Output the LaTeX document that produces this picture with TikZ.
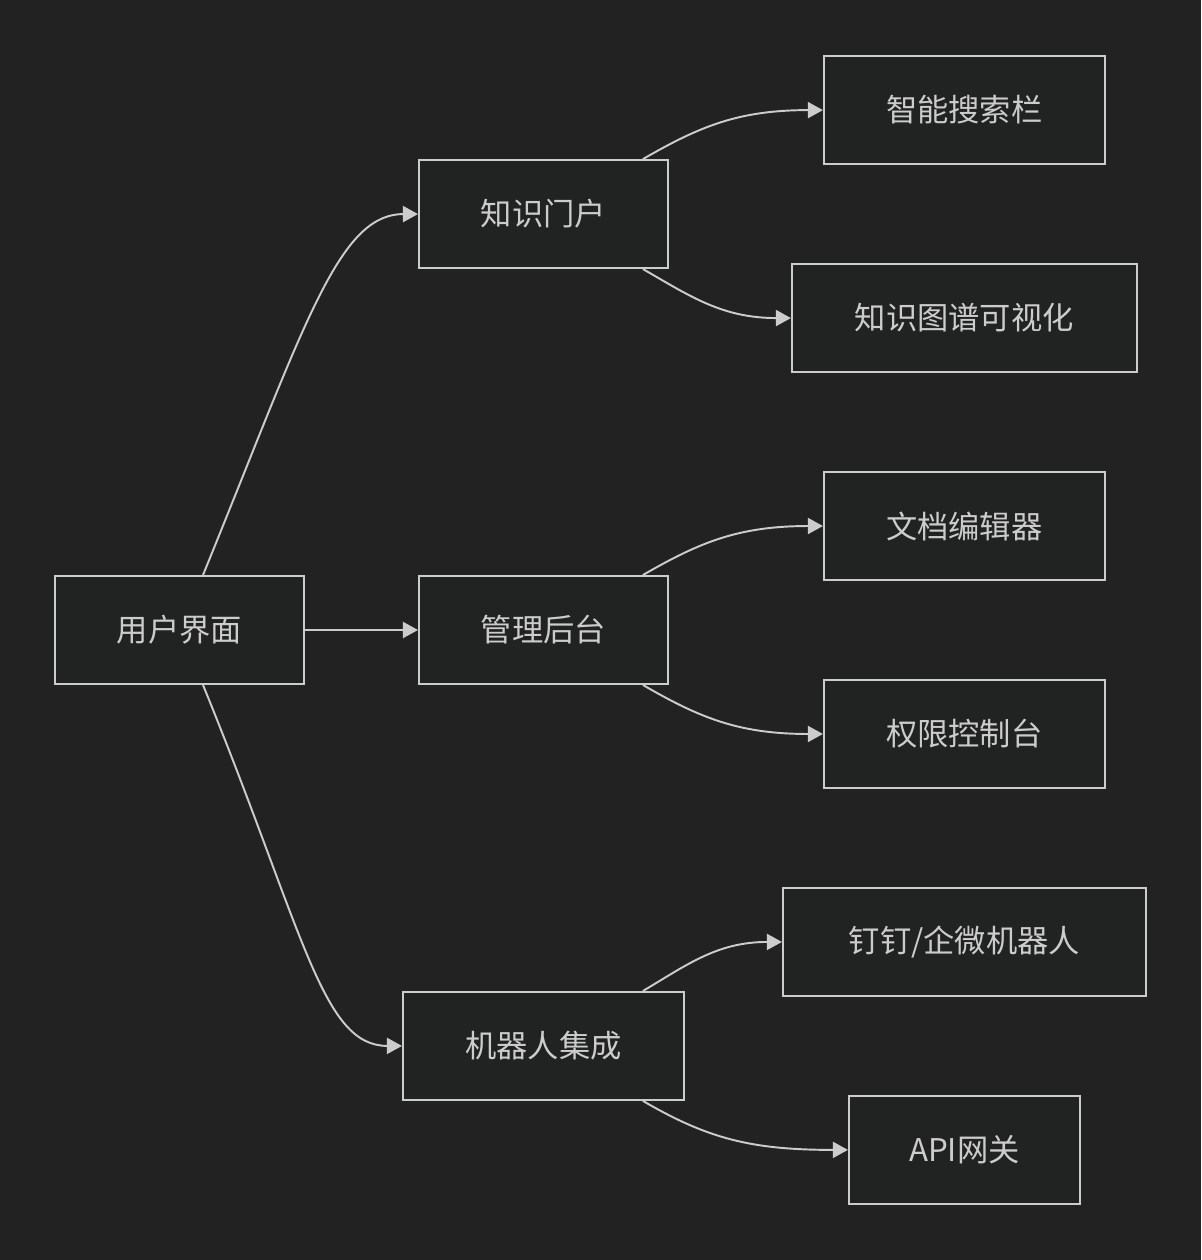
\documentclass[tikz,border=0pt]{standalone}
\usepackage{fontspec}
\setmainfont{Noto Sans CJK SC}
\usepackage{tikz}
\usetikzlibrary{positioning, arrows.meta}
\definecolor{bgcol}{HTML}{222222}
\definecolor{boxfill}{HTML}{212322}
\definecolor{inkcol}{HTML}{CCCCCC}
\tikzset{
x=0.02cm, y=-0.02cm, % one unit is one pixel of the layout
>={Triangle[length=0.3cm, width=0.32cm]}, % filled arrow heads
box/.style={draw=inkcol, line width=1.1pt, fill=boxfill, text=inkcol,
  minimum width=4.98cm, minimum height=2.16cm,
  font=\fontsize{17.8pt}{20pt}\selectfont}, % sets the look of each block
link/.style={->, draw=inkcol, line width=1.1pt}, % the connectors
}
\begin{document}
\begin{tikzpicture}
            \fill[bgcol] (0,0) rectangle (1201,1260);
            \useasboundingbox (0,0) rectangle (1201,1260);
            \node[box] (ui) at (179.5,630) {用户界面};
            \node[box, right of=ui, node distance=7.28cm] (admin) {管理后台};
            \node[box, above of=admin, node distance=8.32cm] (portal) {知识门户};
            \node[box, below of=admin, node distance=8.32cm, minimum width=5.62cm] (bot) {机器人集成};
            \node[box, right of=portal, node distance=8.42cm, yshift=2.08cm, minimum width=5.62cm] (search) {智能搜索栏};
            \node[box, right of=portal, node distance=8.42cm, yshift=-2.08cm, minimum width=6.9cm] (graph) {知识图谱可视化};
            \node[box, right of=admin, node distance=8.42cm, yshift=2.08cm, minimum width=5.62cm] (editor) {文档编辑器};
            \node[box, right of=admin, node distance=8.42cm, yshift=-2.08cm, minimum width=5.62cm] (perm) {权限控制台};
            \node[box, right of=bot, node distance=8.42cm, yshift=2.08cm, minimum width=7.26cm] (dingtalk) {钉钉/企微机器人};
            \node[box, right of=bot, node distance=8.42cm, yshift=-2.08cm, minimum width=4.62cm] (api) {API网关};
            \draw[link] ([xshift=0.47cm]ui.north) .. controls +(102,-250) and +(-80,0) .. (portal.west);
            \draw[link] (ui.east) -- (admin.west);
            \draw[link] ([xshift=0.47cm]ui.south) .. controls +(102,250) and +(-80,0) .. (bot.west);
            \draw[link] ([xshift=1.99cm]portal.north) .. controls +(57,-33) and +(-84,0) .. (search.west);
            \draw[link] ([xshift=1.99cm]portal.south) .. controls +(47,27) and +(-69,0) .. (graph.west);
            \draw[link] ([xshift=1.99cm]admin.north) .. controls +(57,-33) and +(-84,0) .. (editor.west);
            \draw[link] ([xshift=1.99cm]admin.south) .. controls +(57,33) and +(-84,0) .. (perm.west);
            \draw[link] ([xshift=1.99cm]bot.north) .. controls +(44,-26) and +(-65,0) .. (dingtalk.west);
            \draw[link] ([xshift=1.99cm]bot.south) .. controls +(65,38) and +(-96,0) .. (api.west);
\end{tikzpicture}
\end{document}
